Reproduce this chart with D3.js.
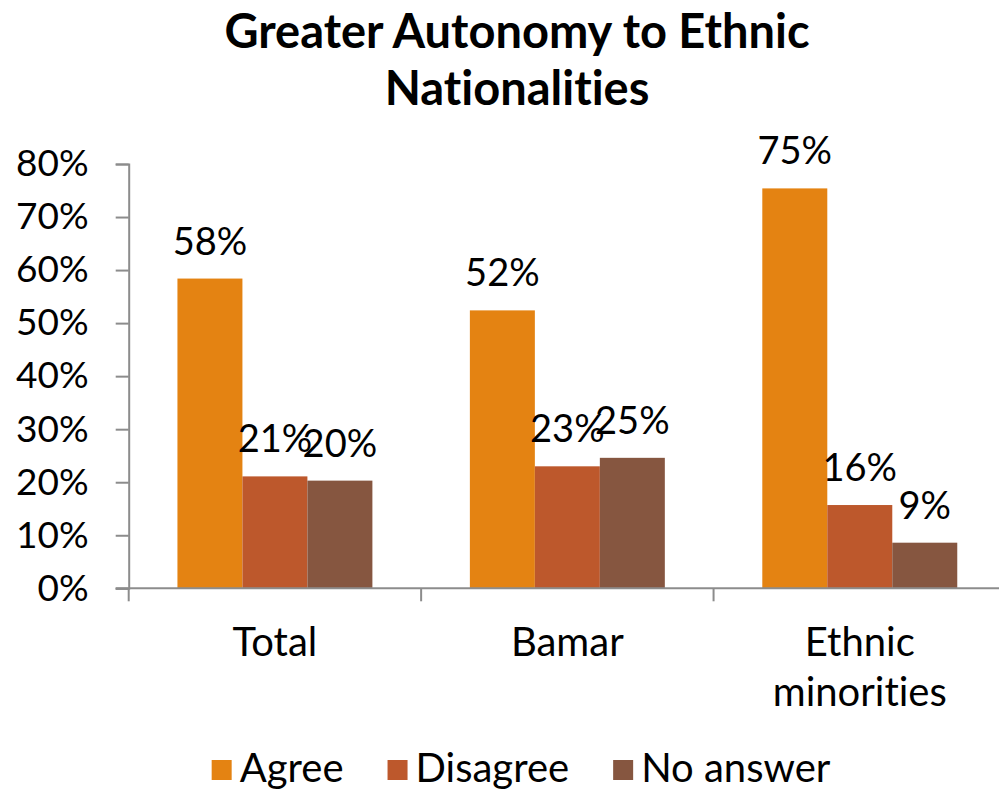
<!DOCTYPE html>
<html>
<head>
<meta charset="utf-8">
<script src="https://cdn.jsdelivr.net/npm/d3@7"></script>
<style>
  html, body { margin: 0; padding: 0; background: #ffffff; }
  svg { display: block; }
  text { font-family: Lato, "Open Sans", sans-serif; fill: #000; font-variant-ligatures: none; }
</style>
</head>
<body>
<svg id="chart" width="999" height="792"></svg>
<script>
// Survey results: share of respondents by group
const categories = [["Total"], ["Bamar"], ["Ethnic", "minorities"]];
const categoryKeys = ["Total", "Bamar", "Ethnic minorities"];
const seriesNames = ["Agree", "Disagree", "No answer"];
const agree    = [0.584, 0.524, 0.754];
const disagree = [0.211, 0.230, 0.157];
const noAnswer = [0.203, 0.246, 0.086];
const yTicks = [0, 0.1, 0.2, 0.3, 0.4, 0.5, 0.6, 0.7, 0.8];
const colors = ["#E48312", "#BD582C", "#865640"];
const titleLines = ["Greater Autonomy to Ethnic", "Nationalities"];

const seriesValues = [agree, disagree, noAnswer];

const svg = d3.select("#chart");
const axisColor = "#8c8c8c";

const plot = { left: 128.7, right: 1006, top: 164, bottom: 588.3 };

const x0 = d3.scaleBand().domain(categoryKeys).range([plot.left, plot.right]).padding(0);
const bw = x0.bandwidth();
const x1 = d3.scaleBand().domain(seriesNames).range([bw / 6, bw * 5 / 6]).padding(0);
const y = d3.scaleLinear().domain([0, 0.8]).range([plot.bottom, plot.top]);
const pct = d3.format(".0%");

// Title
svg.append("g").selectAll("text").data(titleLines).join("text")
  .attr("x", 517).attr("y", (d, i) => 48 + i * 57)
  .attr("text-anchor", "middle")
  .style("font-weight", "700").style("font-size", "47px")
  .text(d => d);

// Bars
const groups = svg.append("g").selectAll("g").data(categoryKeys).join("g")
  .attr("transform", d => `translate(${x0(d)},0)`);

groups.each(function (cat, ci) {
  const g = d3.select(this);
  const rows = seriesNames.map((s, si) => ({ s, si, v: seriesValues[si][ci] }));
  g.selectAll("rect").data(rows).join("rect")
    .attr("x", d => x1(d.s))
    .attr("width", x1.bandwidth())
    .attr("y", d => y(d.v))
    .attr("height", d => y(0) - y(d.v))
    .attr("fill", d => colors[d.si]);
  g.selectAll("text.val").data(rows).join("text")
    .attr("class", "val")
    .attr("x", d => x1(d.s) + x1.bandwidth() / 2)
    .attr("y", d => y(d.v) - 24)
    .attr("text-anchor", "middle")
    .style("font-size", "38px")
    .text(d => pct(d.v));
});

// Y axis
const yAxis = d3.axisLeft(y).tickValues(yTicks).tickFormat(pct).tickSize(13).tickPadding(27);
const yg = svg.append("g").attr("transform", `translate(${plot.left},0)`).call(yAxis);
yg.select(".domain").attr("stroke", axisColor).attr("stroke-width", 2);
yg.selectAll(".tick line").attr("stroke", axisColor).attr("stroke-width", 2);
yg.selectAll(".tick text").style("font-size", "37px").style("font-family", "Lato, sans-serif").attr("fill", "#000");

// X axis with ticks between categories
const xg = svg.append("g").attr("transform", `translate(0,${plot.bottom})`);
xg.append("line").attr("x1", plot.left - 13).attr("x2", plot.right)
  .attr("stroke", axisColor).attr("stroke-width", 2);
const boundaries = categoryKeys.map(c => x0(c)).concat([x0(categoryKeys[categoryKeys.length - 1]) + bw]);
xg.selectAll("line.tk").data(boundaries).join("line").attr("class", "tk")
  .attr("x1", d => d).attr("x2", d => d).attr("y1", 0).attr("y2", 13)
  .attr("stroke", axisColor).attr("stroke-width", 2);
const catLabels = xg.selectAll("text.cat").data(categories).join("text").attr("class", "cat")
  .attr("x", (d, i) => x0(categoryKeys[i]) + bw / 2)
  .attr("text-anchor", "middle")
  .style("font-size", "40px");
catLabels.selectAll("tspan").data(d => d).join("tspan")
  .attr("x", function () { return d3.select(this.parentNode).attr("x"); })
  .attr("y", (d, i) => 68 + i * 50)
  .text(d => d);

// Legend
const legend = svg.append("g");
const items = legend.selectAll("g").data(seriesNames).join("g");
items.append("rect").attr("width", 20).attr("height", 20).attr("y", 760)
  .attr("fill", (d, i) => colors[i]);
items.append("text").attr("x", 28).attr("y", 782).style("font-size", "40px").text(d => d);
const widths = [];
items.each(function () {
  widths.push(d3.select(this).select("text").node().getComputedTextLength());
});
const gap = 44;
const total = widths.reduce((a, w) => a + 28 + w, 0) + gap * (widths.length - 1);
let cursor = 521 - total / 2;
items.attr("transform", (d, i) => {
  const t = `translate(${cursor},0)`;
  cursor += 28 + widths[i] + gap;
  return t;
});
</script>
</body>
</html>
